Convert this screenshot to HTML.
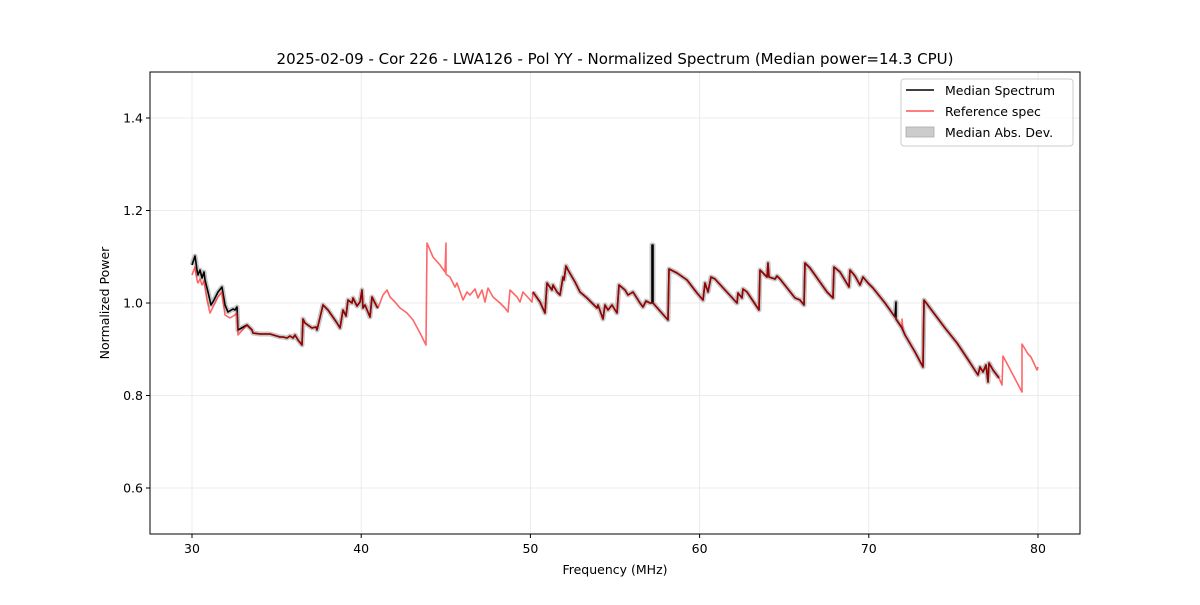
<!DOCTYPE html>
<html><head><meta charset="utf-8"><style>
body{margin:0;background:#fff}
svg text{font-family:"DejaVu Sans","Liberation Sans",sans-serif;fill:#000}
</style></head><body>
<svg id="s" width="1200" height="600" viewBox="0 0 1200 600" xmlns="http://www.w3.org/2000/svg">
<rect width="1200" height="600" fill="#fff"/>
<g id="grid" stroke="#e6e6e6" stroke-width="0.8"></g>
<g id="data"></g>
<rect x="150" y="72" width="930" height="462" fill="none" stroke="#000" stroke-width="1"/>
<g id="ticks" font-size="12.5"></g>
<text x="615" y="64" text-anchor="middle" font-size="15">2025-02-09 - Cor 226 - LWA126 - Pol YY - Normalized Spectrum (Median power=14.3 CPU)</text>
<text x="615" y="574" text-anchor="middle" font-size="12.5">Frequency (MHz)</text>
<text transform="translate(109,303) rotate(-90)" text-anchor="middle" font-size="12.5">Normalized Power</text>
<g>
<rect x="901" y="79" width="172" height="67" rx="3" fill="#fff" fill-opacity="0.8" stroke="#ccc"/>
<line x1="906" y1="90" x2="934" y2="90" stroke="#000" stroke-width="1.5"/>
<text x="945" y="95" font-size="12.5">Median Spectrum</text>
<line x1="906" y1="111" x2="934" y2="111" stroke="#ff5555" stroke-width="1.5"/>
<text x="945" y="116" font-size="12.5">Reference spec</text>
<rect x="906" y="127" width="28" height="10" fill="#000" fill-opacity="0.2" stroke="#aaa" stroke-width="0.8"/>
<text x="945" y="137" font-size="12.5">Median Abs. Dev.</text>
</g>
</svg>
<script>
var NS="http://www.w3.org/2000/svg";
function el(p,t,a,txt){var e=document.createElementNS(NS,t);for(var k in a)e.setAttribute(k,a[k]);if(txt)e.textContent=txt;document.getElementById(p).appendChild(e);return e;}
for(var i=0;i<6;i++){var x=192+169.2*i;el("grid","line",{x1:x,y1:72,x2:x,y2:534});
el("ticks","line",{x1:x,y1:534,x2:x,y2:538,stroke:"#000"});el("ticks","text",{x:x,y:553,"text-anchor":"middle"},String(30+10*i));}
for(var i=0;i<5;i++){var v=0.6+0.2*i,y=303-(v-1)*462.5;el("grid","line",{x1:150,y1:y,x2:1080,y2:y});
el("ticks","line",{x1:146,y1:y,x2:150,y2:y,stroke:"#000"});el("ticks","text",{x:143,y:y+4.5,"text-anchor":"end"},v.toFixed(1));}
var redEarly=[[192,275],[195,267],[197,280],[198,283],[200,279],[202,285],[204,281],[207,300],[210,313],[214,305],[218,297],[222,292],[225,315],[230,318],[235,315],[237,313],[238,335]];
var blkEarly=[[192,265],[195,256],[197,270],[198,275],[200,270],[202,278],[204,272],[205,280],[208,292],[211,305],[214,300],[218,292],[222,287],[225,305],[228,312],[233,309],[235,310],[237,307],[238,330]];
var mid=[[238,330],[247,325],[252,330],[253,333],[260,334],[270,334],[280,337],[283,337],[287,338],[290,336],[293,338],[295,335],[298,340],[302,345],[303,319],[305,323],[312,328],[316,327],[317,330],[323,305],[328,310],[337,323],[340,328],[343,310],[346,316],[348,300],[352,303],[353,298],[357,306],[360,302],[362,290],[363,308],[365,305],[370,317],[372,297],[377,307],[378,308]];
var redGap=[[380,297],[383,295],[387,290],[390,297],[395,302],[400,308],[407,313],[413,320],[420,333],[426,345],[427,243],[433,257],[440,265],[445,272],[446,243],[446,274],[447,275],[450,277],[455,287],[457,283],[463,300],[467,292],[470,295],[475,289],[478,298],[482,290],[485,302],[488,288],[493,297],[500,303],[505,308],[508,312],[510,290],[513,293],[517,297],[520,302],[523,292],[532,302],[533,292]];
var late=[[533,292],[540,302],[545,313],[547,283],[552,290],[553,285],[557,292],[560,295],[563,277],[564,280],[566,266],[568,270],[575,282],[580,292],[587,298],[597,308],[598,305],[603,319],[605,305],[608,310],[612,305],[617,313],[619,285],[625,290],[628,295],[633,292],[640,303],[643,307],[646,301],[650,303],[653,303],[660,311],[668,320],[669,269],[677,273],[687,280],[697,293],[703,300],[705,283],[708,292],[711,277],[715,279],[725,290],[737,303],[738,293],[742,298],[743,289],[747,292],[759,310],[760,270],[767,277],[768,263],[769,277],[775,279],[777,276],[780,279],[795,298],[800,300],[804,305],[805,263],[810,268],[827,292],[833,298],[834,267],[840,272],[849,287],[850,270],[855,276],[860,285],[863,277],[868,283],[873,288],[885,303],[895,317],[902,328],[905,335],[915,352],[923,367],[924,300],[933,312],[945,328],[957,343],[967,358],[978,375],[980,367],[983,372],[986,365],[988,382],[989,363],[993,370],[999,378]];
var redEnd=[[1002,385],[1003,356],[1012,373],[1022,392],[1022,344],[1028,354],[1031,357],[1037,370],[1038,367]];
function pts(a){return a.map(function(p){return p[0]+","+p[1]}).join(" ");}
var redLate=[];late.forEach(function(p){redLate.push(p);if(p[0]==902){redLate.push([902,319]);redLate.push([903,330]);}});
var blkLate=[];late.forEach(function(p){blkLate.push(p);if(p[0]==650){blkLate.push([652,303]);blkLate.push([652,245]);blkLate.push([653,245]);}if(p[0]==895){blkLate.push([896,302]);blkLate.push([896,319]);}});
var red=redEarly.concat(mid.slice(1),redGap.slice(1),redLate.slice(1),redEnd);
var b1=blkEarly.concat(mid.slice(1)),b2=blkLate;
[b1,b2].forEach(function(a){el("data","polyline",{points:pts(a),fill:"none",stroke:"#000","stroke-opacity":0.22,"stroke-width":5,"stroke-linejoin":"round"});});
[b1,b2].forEach(function(a){el("data","polyline",{points:pts(a),fill:"none",stroke:"#000","stroke-width":1.6,"stroke-linejoin":"round"});});
el("data","polyline",{points:pts(red),fill:"none",stroke:"#ff0000","stroke-opacity":0.6,"stroke-width":1.6,"stroke-linejoin":"round"});
</script>
</body></html>
